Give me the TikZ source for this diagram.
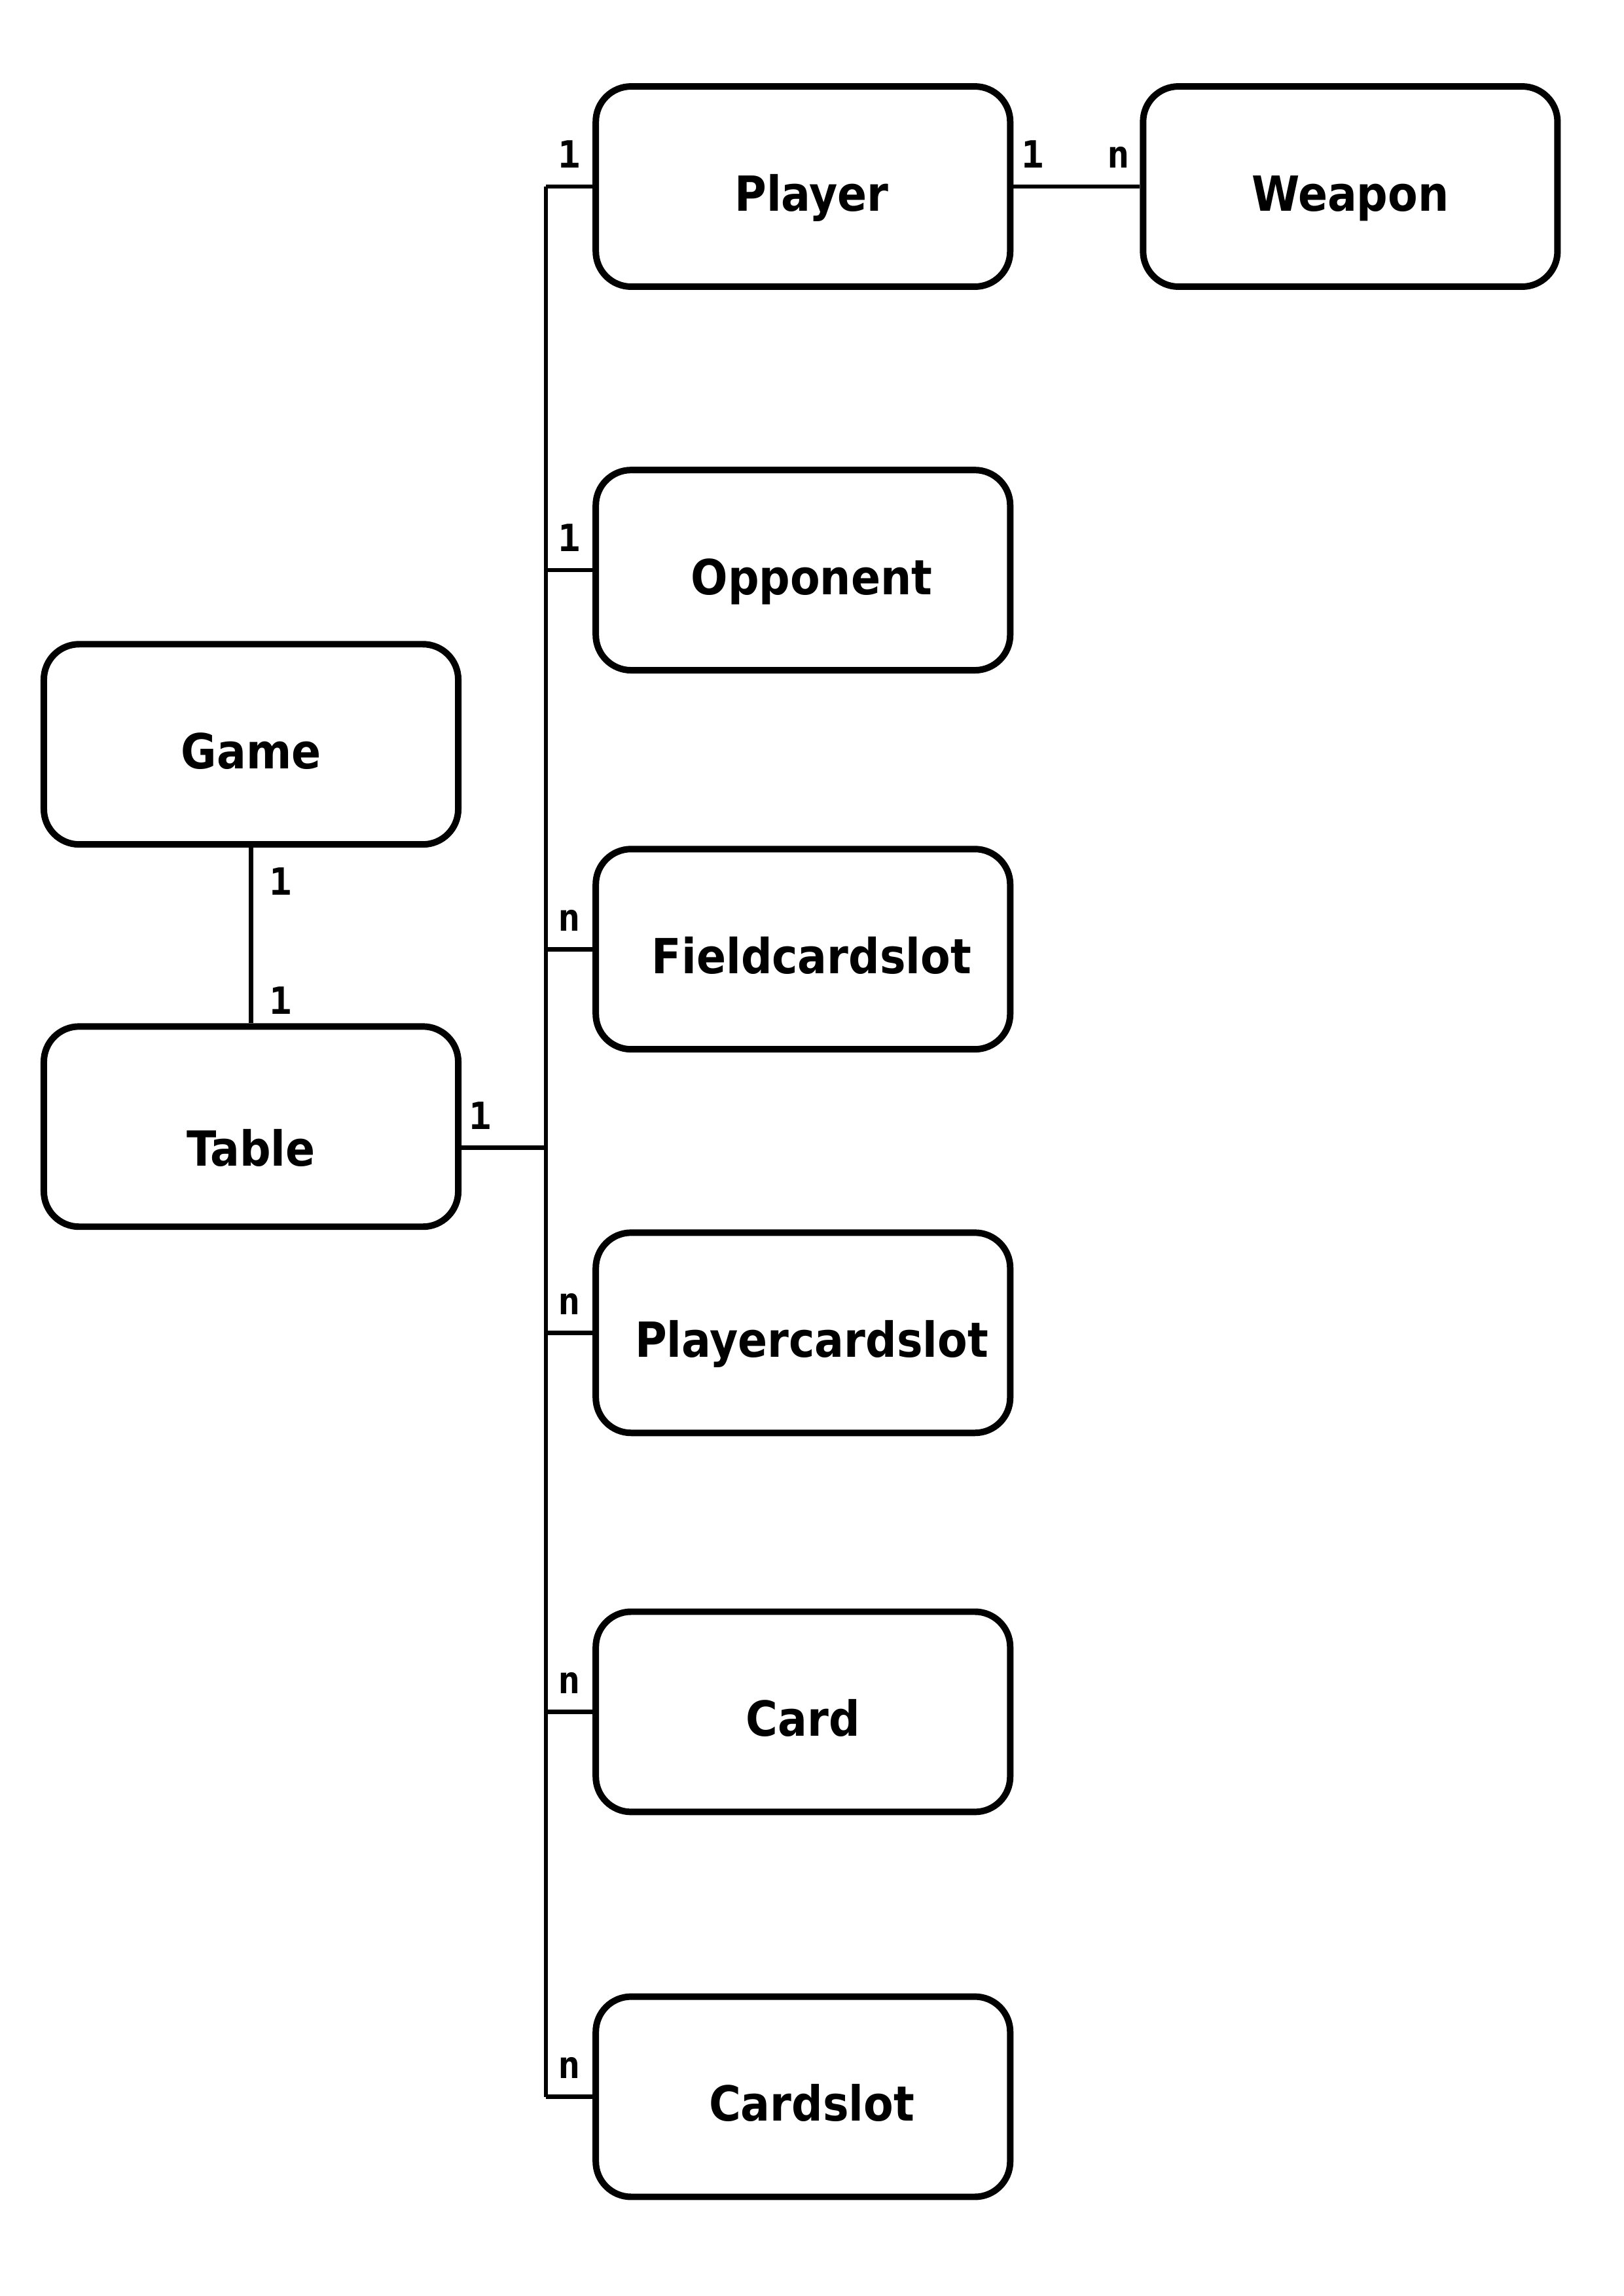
\documentclass[tikz,border=0pt]{standalone}
\usepackage{fontspec}
\newfontfamily\boxfont{DejaVu Sans Condensed}[BoldFont=* Bold]
\newfontfamily\cardfont{DejaVu Sans Mono}
\usetikzlibrary{positioning}

\begin{document}
\begin{tikzpicture}[
            entity/.style={rectangle, rounded corners=13pt, draw, line width=2.4pt, minimum width=5.36cm, minimum height=2.59cm, text height=18pt, text depth=0pt, text centered, font=\boxfont\bfseries\fontsize{17.8}{20}\selectfont, align=center},
            nudged/.style={execute at begin node={\hspace*{6.4pt}}},
            link/.style={line width=1.6pt},
            card/.style={font=\cardfont\bfseries\fontsize{13.8}{15}\selectfont, inner sep=1pt}
        ]
            \useasboundingbox (0,0) rectangle (21,-29.7);
            \node[entity, nudged] (player) at (10.386,-2.413) {Player};
            \node[entity] (weapon) at (17.465,-2.413) {Weapon};
            \node[entity, nudged] (opponent) at (10.386,-7.375) {Opponent};
            \node[entity] (game) at (3.247,-9.628) {Game};
            \node[entity, nudged] (fieldslot) at (10.386,-12.278) {Fieldcardslot};
            \node[entity, text height=29pt] (table) at (3.247,-14.573) {Table};
            \node[entity, nudged] (playerslot) at (10.386,-17.240) {Playercardslot};
            \node[entity] (card) at (10.386,-22.143) {Card};
            \node[entity, nudged] (cardslot) at (10.386,-27.122) {Cardslot};
            \coordinate (bus) at (7.062,0);
            \coordinate (tablelink) at ([yshift=-7.7pt]table.east);

            \draw[link] (player.east) -- node[card, pos=0.15, above=5pt] {1} node[card, pos=0.83, above=5pt] {n} (weapon.west);
            \draw[link] (game.south) -- node[card, pos=0.19, right=5pt] {1} node[card, pos=0.87, right=5pt] {1} (table.north);
            \draw[link] (tablelink) -- node[card, pos=0.22, above=5pt] {1} (tablelink -| bus);

            % Table to its parts
            \draw[link] (bus |- player.west) -- (bus |- cardslot.west);
            \draw[link] (bus |- player.west) -- node[card, above=5pt] {1} (player.west);
            \draw[link] (bus |- opponent.west) -- node[card, above=5pt] {1} (opponent.west);
            \draw[link] (bus |- fieldslot.west) -- node[card, above=5pt] {n} (fieldslot.west);
            \draw[link] (bus |- playerslot.west) -- node[card, above=5pt] {n} (playerslot.west);
            \draw[link] (bus |- card.west) -- node[card, above=5pt] {n} (card.west);
            \draw[link] (bus |- cardslot.west) -- node[card, above=5pt] {n} (cardslot.west);
        \end{tikzpicture}
\end{document}
